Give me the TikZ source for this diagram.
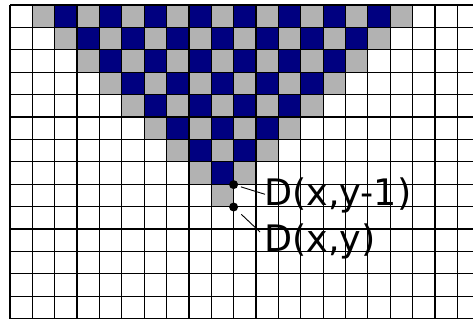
\documentclass[tikz,border=0pt]{standalone}
\usepackage{fontspec}
\setmainfont{DejaVu Sans}
\begin{document}
\begin{tikzpicture}[x=1pt,y=-1pt,
  cellgray/.style={fill=black!30},
  cellnavy/.style={fill=navy},
  gridline/.style={draw=black,line width=1.2pt},
  dotnode/.style={circle,fill=black,inner sep=0pt,minimum size=9pt},
  lbl/.style={anchor=base west,inner sep=0pt,font=\fontsize{36.5}{44}\selectfont},
  conn/.style={draw=black,line width=0.9pt}]
\definecolor{navy}{HTML}{000080}
\useasboundingbox (0,0) rectangle (473,320);
\clip (0,0) rectangle (473,320);
\def\cw{22.365}
\def\ch{22.4}
% triangle cells
\foreach \r in {0,...,8}{
  \pgfmathtruncatemacro{\cs}{\r+1}
  \pgfmathtruncatemacro{\ce}{17-\r}
  \foreach \c in {\cs,...,\ce}{
    \pgfmathtruncatemacro{\pty}{mod(\c+\r,2)}
    \pgfmathsetmacro{\xa}{10+\c*\cw}
    \pgfmathsetmacro{\ya}{5+\r*\ch}
    \ifnum\pty=0
      \fill[cellnavy] (\xa,\ya) rectangle ++(\cw,\ch);
    \else
      \fill[cellgray] (\xa,\ya) rectangle ++(\cw,\ch);
    \fi
  }
}
% grid lines
\foreach \c in {0,...,21}{
  \pgfmathsetmacro{\xa}{10+\c*\cw}
  \draw[gridline] (\xa,5) -- (\xa,318.6);
}
\foreach \r in {0,...,14}{
  \pgfmathsetmacro{\ya}{5+\r*\ch}
  \draw[gridline] (10,\ya) -- (485,\ya);
}
% dots and labels
\node[dotnode] (d1) at (233.6,184.6) {};
\node[dotnode] (d2) at (233.6,207.0) {};
\node[lbl] (l1) at (264,205) {D(x,y-1)};
\node[lbl] (l2) at (264,251.7) {D(x,y)};
\coordinate (e1) at (265,194.3);
\coordinate (e2) at (260,232);
\draw[conn,shorten <=3pt] (d1) -- (e1);
\draw[conn,shorten <=6pt] (d2) -- (e2);
\end{tikzpicture}
\end{document}
